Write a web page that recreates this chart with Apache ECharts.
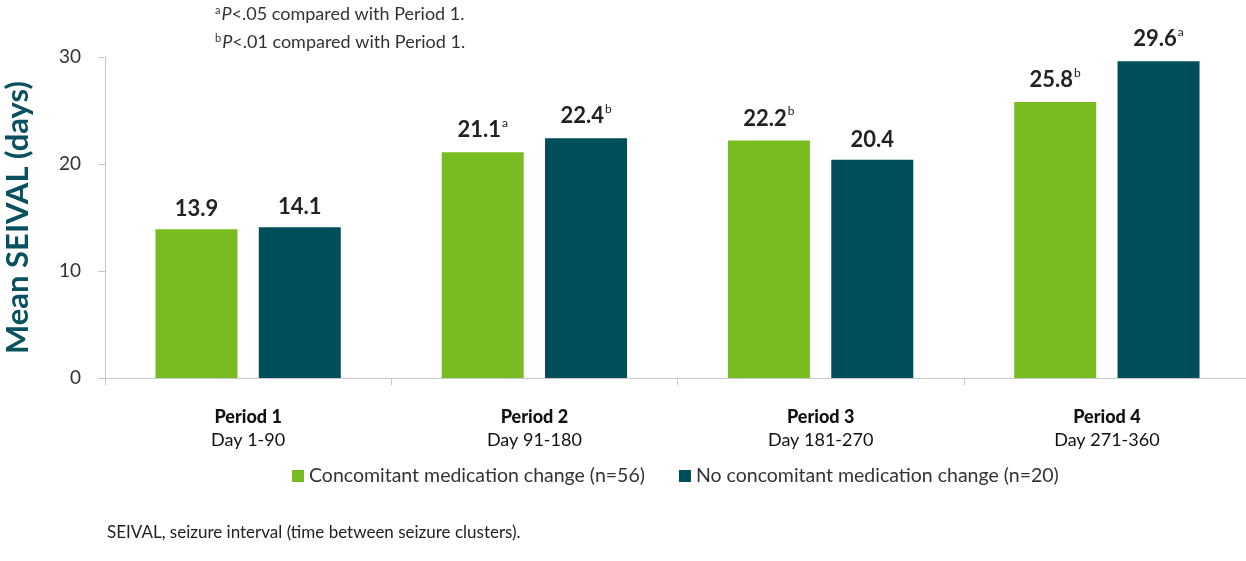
<!DOCTYPE html>
<html>
<head>
<meta charset="utf-8">
<script src="https://cdn.jsdelivr.net/npm/echarts@6/dist/echarts.min.js"></script>
<style>
html,body{margin:0;padding:0;background:#fff;}
#c{width:1246px;height:561px;}
</style>
</head>
<body>
<div id="c"></div>
<script>
const periods = ['Period 1', 'Period 2', 'Period 3', 'Period 4'];
const dayRanges = ['Day 1-90', 'Day 91-180', 'Day 181-270', 'Day 271-360'];
const seriesNames = ['Concomitant medication change (n=56)', 'No concomitant medication change (n=20)'];
const withChange = [13.9, 21.1, 22.2, 25.8];
const withChangeSup = ['', 'a', 'b', 'b'];
const noChange = [14.1, 22.4, 20.4, 29.6];
const noChangeSup = ['', 'b', '', 'a'];
const yTicks = [0, 10, 20, 30];
const footA = ['a', 'P', '<.05 compared with Period 1.'];
const footB = ['b', 'P', '<.01 compared with Period 1.'];
const footnote = 'SEIVAL, seizure interval (time between seizure clusters).';

const FONT = 'Lato, "Open Sans", sans-serif';
const GREEN = '#78BC21';
const TEAL = '#004E5A';

const categories = periods.map((p, i) => p + '\n' + dayRanges[i]);

function labelFmt(sups) {
  return function (p) {
    const s = sups[p.dataIndex];
    return '{v|' + p.value.toFixed(1) + '}' + (s ? '{s|' + s + '}' : '');
  };
}
const labelRich = {
  v: { fontFamily: FONT, fontSize: 22, fontWeight: 'bold', color: '#222' },
  s: { fontFamily: FONT, fontSize: 12, color: '#222', verticalAlign: 'top', padding: [0, 0, 14, 1] }
};
const footRich = {
  s: { fontFamily: FONT, fontSize: 11, fontWeight: 'normal', color: '#333', padding: [0, 1, 8, 0] },
  i: { fontFamily: FONT, fontSize: 18, fontWeight: 'normal', fontStyle: 'italic', color: '#333' },
  t: { fontFamily: FONT, fontSize: 18, fontWeight: 'normal', color: '#333' }
};

const chart = echarts.init(document.getElementById('c'));
chart.setOption({
  animation: false,
  backgroundColor: '#fff',
  title: [
    { text: '{s|' + footA[0] + '}{i|' + footA[1] + '}{t|' + footA[2] + '}', left: 215, top: 5, padding: 0, textStyle: { fontWeight: 'normal', rich: footRich } },
    { text: '{s|' + footB[0] + '}{i|' + footB[1] + '}{t|' + footB[2] + '}', left: 215, top: 33, padding: 0, textStyle: { fontWeight: 'normal', rich: footRich } },
    { text: footnote, left: 107, top: 524, padding: 0, textStyle: { fontFamily: FONT, fontSize: 17, fontWeight: 'normal', color: '#222' } }
  ],
  legend: {
    data: seriesNames,
    left: 292,
    top: 466,
    itemWidth: 12,
    itemHeight: 12,
    itemGap: 34,
    icon: 'rect',
    textStyle: { fontFamily: FONT, fontSize: 19.5, color: '#333' },
    padding: 0
  },
  grid: { left: 105, top: 57, bottom: 183, width: 1145, containLabel: false, outerBoundsMode: 'none' },
  xAxis: {
    type: 'category',
    data: categories,
    axisLine: { lineStyle: { color: '#c8c8c8', width: 1 } },
    axisTick: { show: true, alignWithLabel: false, length: 7, lineStyle: { color: '#c8c8c8' } },
    axisLabel: {
      margin: 28,
      fontFamily: FONT,
      fontSize: 18,
      lineHeight: 23,
      color: '#111',
      formatter: function (v) {
        const parts = v.split('\n');
        return '{b|' + parts[0] + '}\n{n|' + parts[1] + '}';
      },
      rich: {
        b: { fontFamily: FONT, fontSize: 18, fontWeight: 900, color: '#111', lineHeight: 23 },
        n: { fontFamily: FONT, fontSize: 18, color: '#111', lineHeight: 23 }
      }
    }
  },
  yAxis: {
    type: 'value',
    min: 0,
    max: 30,
    interval: 10,
    name: 'Mean SEIVAL (days)',
    nameLocation: 'middle',
    nameGap: 72,
    nameTextStyle: { fontFamily: FONT, fontSize: 31, fontWeight: 'bold', color: '#0A5160' },
    axisLine: { show: true, lineStyle: { color: '#c8c8c8', width: 1 } },
    axisTick: { show: true, length: 7, lineStyle: { color: '#c8c8c8' } },
    splitLine: { show: false },
    axisLabel: {
      margin: 24,
      fontFamily: FONT,
      fontSize: 19,
      color: '#333',
      formatter: function (v) { return yTicks.indexOf(v) >= 0 ? String(v) : ''; }
    }
  },
  series: [
    {
      name: seriesNames[0],
      type: 'bar',
      data: withChange,
      barWidth: 82,
      barGap: '26%',
      itemStyle: { color: GREEN },
      label: { show: true, position: 'top', distance: 9, formatter: labelFmt(withChangeSup), rich: labelRich }
    },
    {
      name: seriesNames[1],
      type: 'bar',
      data: noChange,
      barWidth: 82,
      barGap: '26%',
      itemStyle: { color: TEAL },
      label: { show: true, position: 'top', distance: 9, formatter: labelFmt(noChangeSup), rich: labelRich }
    }
  ]
});
</script>
</body>
</html>
